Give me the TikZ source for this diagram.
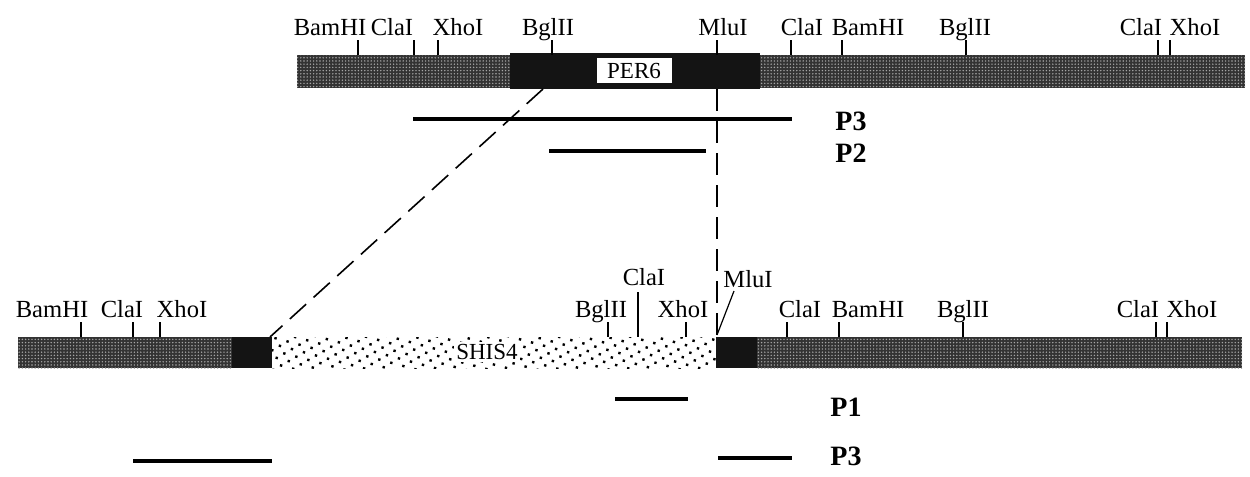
\documentclass[tikz,border=0pt]{standalone}
\usepackage{fontspec}
\setmainfont{Liberation Serif}
\usetikzlibrary{patterns.meta}
\begin{document}
\begin{tikzpicture}[x=0.5pt,y=-0.5pt,
  site/.style={font=\fontsize{12.3}{14}\selectfont, anchor=base, inner sep=0pt},
  sitetick/.style={line width=0.6pt},
  probe/.style={line width=2pt},
  plabel/.style={font=\fontsize{14}{16}\selectfont\bfseries, anchor=west, inner sep=0pt},
  flank/.style={fill=black!80},
  flanktex/.style={pattern={Dots[distance=1.6pt,radius=0.4pt]}, pattern color=black!35},
  pergene/.style={fill=black!92},
  shisfill/.style={pattern={Dots[distance=4.4pt,radius=0.85pt,angle=30]}, pattern color=black},
  maplink/.style={line width=0.8pt, dash pattern=on 11pt off 5pt},
  genelabel/.style={font=\fontsize{11.5}{13}\selectfont, fill=white, inner sep=1pt}
]
\useasboundingbox (0,0) rectangle (1250,477);

% ---------- upper map: PER6 locus ----------
\fill[flank]    (297,55) rectangle (510,88);
\fill[flanktex] (297,55) rectangle (510,88);
\fill[pergene]  (510,53) rectangle (760,89);
\fill[flank]    (760,55) rectangle (1245,88);
\fill[flanktex] (760,55) rectangle (1245,88);
\fill[white]    (597,58) rectangle (672,83);
\node[genelabel, fill=none] (per6) at (634,71) {PER6};

% restriction sites, upper map
\node[site] (tBam1) at (330,35)  {BamHI};
\node[site] (tCla1) at (392,35)  {ClaI};
\node[site] (tXho1) at (458,35)  {XhoI};
\node[site] (tBgl1) at (548,35)  {BglII};
\node[site] (tMlu)  at (723,35)  {MluI};
\node[site] (tCla2) at (802,35)  {ClaI};
\node[site] (tBam2) at (868,35)  {BamHI};
\node[site] (tBgl2) at (965,35)  {BglII};
\node[site] (tCla3) at (1141,35) {ClaI};
\node[site] (tXho2) at (1195,35) {XhoI};
\foreach \x in {358,414,438,552,717,791,842,966,1158,1170}
  \draw[sitetick] (\x,40) -- (\x,55);

% probes, upper map
\coordinate (p3a) at (413,119); \coordinate (p3b) at (792,119);
\coordinate (p2a) at (549,151); \coordinate (p2b) at (706,151);
\draw[probe] (p3a) -- (p3b);
\draw[probe] (p2a) -- (p2b);
\node[plabel] (lP3top) at (835,121) {P3};
\node[plabel] (lP2)    at (835,153) {P2};

% ---------- lower map: SHIS4 replacement ----------
\fill[flank]    (18,337)  rectangle (232,368);
\fill[flanktex] (18,337)  rectangle (232,368);
\fill[pergene]  (232,337) rectangle (272,368);
\fill[shisfill] (272,337) rectangle (716,368);
\fill[pergene]  (716,337) rectangle (757,368);
\fill[flank]    (757,337) rectangle (1242,368);
\fill[flanktex] (757,337) rectangle (1242,368);
\node[genelabel] (shis4) at (487,352) {SHIS4};

% restriction sites, lower map
\node[site] (bBam1) at (52,317)   {BamHI};
\node[site] (bCla1) at (122,317)  {ClaI};
\node[site] (bXho1) at (182,317)  {XhoI};
\node[site] (bBgl1) at (601,317)  {BglII};
\node[site] (bCla2) at (644,285)  {ClaI};
\node[site] (bXho2) at (683,317)  {XhoI};
\node[site] (bMlu)  at (748,287)  {MluI};
\node[site] (bCla3) at (800,317)  {ClaI};
\node[site] (bBam2) at (868,317)  {BamHI};
\node[site] (bBgl2) at (963,317)  {BglII};
\node[site] (bCla4) at (1138,317) {ClaI};
\node[site] (bXho3) at (1192,317) {XhoI};
\foreach \x in {81,133,160,608,686,787,839,963,1156,1167}
  \draw[sitetick] (\x,322) -- (\x,337);
\draw[sitetick] (638,292) -- (638,337);
\draw[sitetick] (734,291) -- (717,335);

% probes, lower map
\coordinate (p1a) at (615,399); \coordinate (p1b) at (688,399);
\coordinate (p3c) at (133,461); \coordinate (p3d) at (272,461);
\coordinate (p3e) at (718,458); \coordinate (p3f) at (792,458);
\draw[probe] (p1a) -- (p1b);
\draw[probe] (p3c) -- (p3d);
\draw[probe] (p3e) -- (p3f);
\node[plabel] (lP1)    at (830,407) {P1};
\node[plabel] (lP3bot) at (830,456) {P3};

% ---------- correspondence between the two maps ----------
\coordinate (bglTop)  at (543,89);
\coordinate (shisL)   at (270,337);
\coordinate (mluTop)  at (717,89);
\coordinate (mluBot)  at (717,337);
\draw[maplink] (bglTop) -- (shisL);
\draw[maplink] (mluTop) -- (mluBot);
\end{tikzpicture}
\end{document}
